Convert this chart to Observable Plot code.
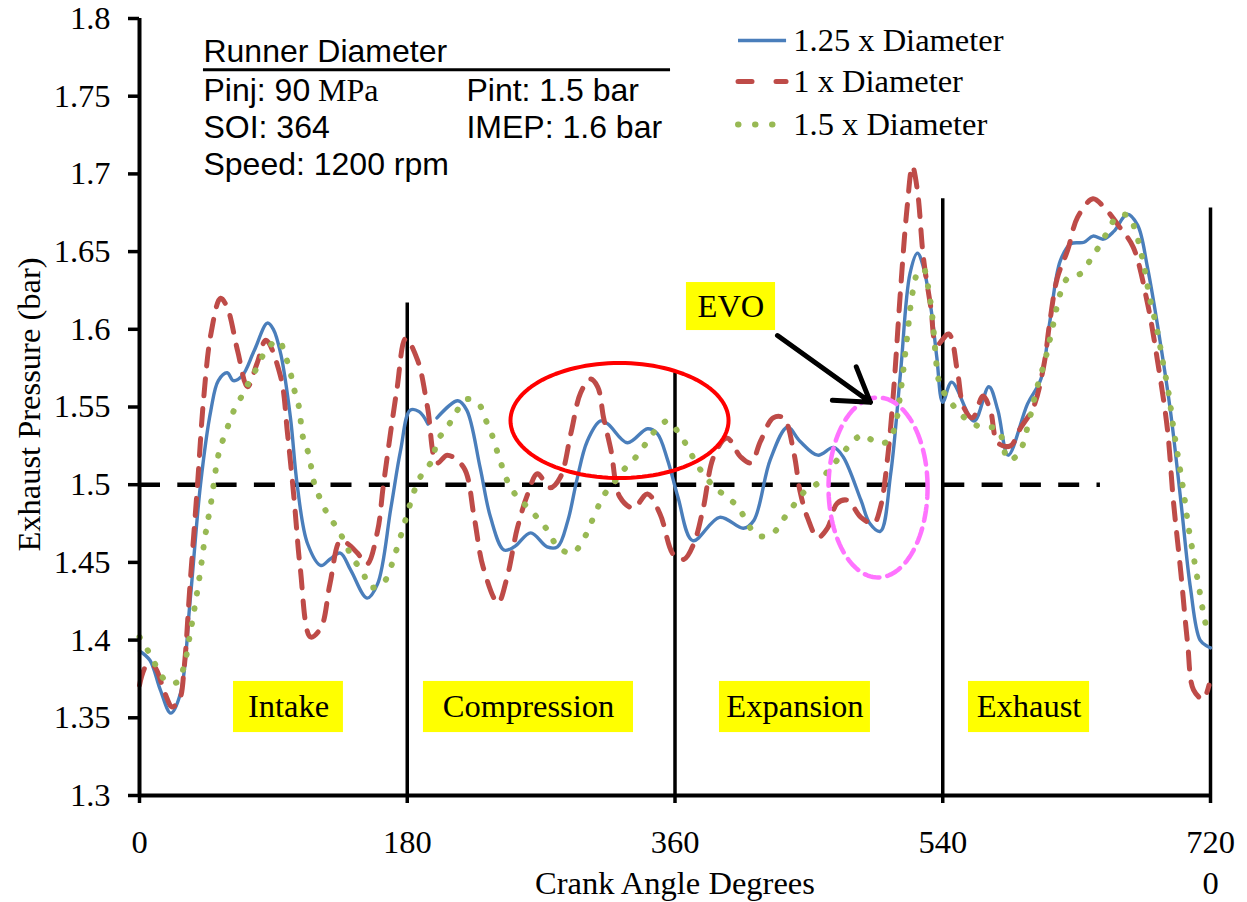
<!DOCTYPE html>
<html>
<head>
<meta charset="utf-8">
<script src="https://cdn.jsdelivr.net/npm/d3@7"></script>
<script src="https://cdn.jsdelivr.net/npm/@observablehq/plot@0.6"></script>
<style>
  html, body { margin: 0; padding: 0; background: #ffffff; }
  #chart { width: 1247px; height: 902px; }
</style>
</head>
<body>
<div id="chart"></div>
<script>
// ---------- data (crank angle [deg], exhaust pressure [bar]) ----------
const dia125 = [
  [0,1.393],[7,1.387],[14,1.368],[21,1.353],[27.6,1.366],[34,1.425],[41,1.50],[48,1.548],[53,1.567],[59,1.572],
  [63,1.567],[69,1.570],[77,1.586],[86,1.604],[90,1.60],[95,1.584],[101.5,1.543],[106,1.50],[113,1.462],[122,1.448],
  [128,1.452],[135,1.456],[142,1.445],[153,1.427],[160,1.436],[169,1.485],[175.5,1.522],[182,1.548],[188,1.547],[194,1.539],
  [197,null],
  [200,1.543],[214,1.554],[220,1.548],[229,1.511],[236,1.479],[245,1.458],[252,1.46],[263,1.469],[274,1.46],[281,1.46],
  [288,1.477],[294,1.503],[301,1.528],[310,1.541],[315,1.539],[328,1.527],[341.5,1.536],[348,1.533],[355,1.516],[362,1.492],
  [372,1.464],[390,1.479],[406,1.472],[413,1.477],[424,1.516],[435.6,1.537],[444,1.528],[456,1.519],[466.6,1.524],[473,1.518],
  [485,1.49],[491,1.475],[498,1.47],[505,1.507],[511.6,1.572],[518,1.636],[523,1.649],[527,1.64],[532,1.614],[536,1.582],
  [540,1.553],[546,1.566],[561,1.541],[571,1.563],[577,1.548],[584,1.519],[597,1.552],[606,1.568],[612,1.605],[619,1.644],
  [626,1.655],[635,1.656],[641,1.66],[648,1.658],[655,1.663],[664,1.674],[671,1.667],[677.6,1.64],[686,1.593],[693,1.548],
  [700,1.49],[706.6,1.433],[713,1.40],[718,1.396],[720,1.395]
];
const dia100 = [
  [0,1.371],[5,1.384],[10,1.383],[17,1.366],[22,1.357],[27,1.362],[30,1.382],[34,1.436],[39,1.50],[43,1.554],
  [48,1.597],[54.5,1.62],[59,1.614],[66,1.586],[72.6,1.563],[79,1.578],[85,1.593],[95,1.569],[99.5,1.533],[104,1.49],
  [108,1.447],[115,1.402],[122,1.408],[128,1.436],[135,1.464],[140,1.462],[146.5,1.456],[153,1.449],[160,1.47],[164,1.50],
  [173,1.561],[179,1.594],[187,1.58],[193.6,1.55],[200,1.514],[207,1.519],[218,1.511],[225,1.479],[231,1.447],[241,1.424],
  [247,1.44],[254,1.472],[261,1.494],[267.5,1.507],[276,1.498],[283,1.505],[290,1.533],[296.5,1.559],[303,1.568],[308,1.563],
  [312,1.543],[317,1.522],[323,1.492],[332,1.485],[341.5,1.494],[350,1.481],[359,1.455],[366,1.452],[372.6,1.462],[379,1.485],
  [386,1.518],[395,1.53],[404,1.518],[411,1.514],[417.5,1.528],[426,1.543],[433,1.543],[440,1.52],[444,1.496],[449,1.479],
  [456,1.466],[462.5,1.472],[469,1.488],[476,1.49],[485,1.479],[493.5,1.475],[498,1.485],[503,1.518],[507,1.561],[511.6,1.625],
  [516,1.678],[519.6,1.705],[523,1.689],[527,1.646],[532,1.614],[536,1.59],[544,1.597],[550,1.572],[554,1.55],[560,1.543],
  [567,1.557],[572,1.548],[577,1.527],[585.5,1.525],[592,1.536],[601,1.55],[608,1.577],[612,1.605],[617,1.633],[624,1.651],
  [630.6,1.672],[641,1.684],[648,1.679],[659.5,1.665],[668,1.653],[677.6,1.617],[684,1.582],[691,1.536],[695,1.49],[700,1.444],
  [704.6,1.398],[708.6,1.368],[715,1.362],[719,1.371]
];
const dia150 = [
  [0,1.402],[7,1.391],[12,1.382],[18.5,1.373],[25.5,1.373],[29.6,1.382],[34,1.404],[37.6,1.424],[41,1.445],[44,1.466],
  [48,1.488],[53,1.519],[56.5,1.53],[60,1.539],[64.5,1.55],[70,1.559],[74.6,1.568],[80,1.577],[84.7,1.586],[93.4,1.593],
  [98,1.583],[101.5,1.572],[103.5,1.563],[107,1.551],[110,1.53],[113.6,1.52],[118,1.499],[122,1.49],[127,1.48],[133,1.472],
  [138.5,1.462],[143,1.453],[150,1.444],[155,1.434],[164,1.437],[172,1.456],[179,1.478],[185.5,1.498],[190,1.507],[197,1.516],
  [200,1.528],[207,1.537],[212.4,1.546],[220,1.555],[228,1.552],[232.6,1.542],[237,1.532],[240.6,1.521],[244,1.511],[248,1.501],
  [254,1.492],[261.5,1.485],[269,1.477],[275.6,1.469],[281,1.46],[291,1.456],[298,1.464],[307,1.483],[312,1.493],[318.7,1.501],
  [325,1.509],[333,1.517],[340,1.526],[346,1.534],[355,1.541],[362,1.534],[368,1.525],[373,1.516],[379,1.507],[387,1.498],
  [395,1.492],[403,1.485],[408.7,1.475],[416,1.467],[426,1.469],[433,1.478],[440,1.487],[446.5,1.495],[456,1.501],[463,1.509],
  [470,1.517],[477,1.525],[486,1.532],[495.5,1.527],[503.5,1.528],[508,1.538],[511.6,1.559],[515.6,1.591],[519.6,1.623],[523,1.636],
  [527,1.639],[530,1.628],[533,1.608],[535,1.586],[538,1.565],[547,1.551],[558.6,1.54],[567,1.537],[577,1.536],[584,1.516],
  [591,1.52],[598,1.541],[603,1.561],[609,1.581],[614,1.602],[619,1.623],[624,1.633],[633,1.636],[640,1.646],[645.5,1.654],
  [651.5,1.664],[657.5,1.673],[665,1.673],[669.6,1.663],[675,1.642],[679,1.621],[684,1.6],[688,1.579],[692,1.558],[695,1.537],
  [698.5,1.516],[702,1.495],[705,1.474],[708.6,1.454],[712.6,1.432],[716.6,1.411],[719,1.405]
];

const seriesNames = ["1.25 x Diameter", "1 x Diameter", "1.5 x Diameter"];
const xTicks = [0, 180, 360, 540, 720];
const xTickLabels = ["0", "180", "360", "540", "720"];
const yTicks = [1.3, 1.35, 1.4, 1.45, 1.5, 1.55, 1.6, 1.65, 1.7, 1.75, 1.8];
const yTickLabels = ["1.3", "1.35", "1.4", "1.45", "1.5", "1.55", "1.6", "1.65", "1.7", "1.75", "1.8"];
const phaseBounds = [180, 360, 540, 720];
const phaseBoundTops = [1.617, 1.572, 1.684, 1.678];
const phaseNames = ["Intake", "Compression", "Expansion", "Exhaust"];
const phaseBoxStart = [63.2, 190.9, 389.9, 557.3];
const phaseBoxEnd = [137.1, 332.1, 491.4, 638.7];
const referencePressure = 1.5;
const referenceEnd = 646;
const infoTitle = "Runner Diameter";
const infoLeft = ["Pinj: 90", "SOI: 364", "Speed: 1200 rpm"];
const infoRight = ["Pint: 1.5 bar", "IMEP: 1.6 bar"];

// ---------- helpers ----------
const toRows = (arr) => arr.map(([a, p]) => ({a, p}));
const ellipse = (cx, cy, rx, ry) =>
  d3.range(0, 361, 3).map(t => ({a: cx + rx * Math.cos(t * Math.PI / 180), p: cy + ry * Math.sin(t * Math.PI / 180)}));

const BLUE = "#4a7ebb", RED = "#be4b48", GREEN = "#98b954";
const SERIF = "'Liberation Serif','Times New Roman',serif";
const SANS = "'Liberation Sans',Arial,sans-serif";
const FS = 32.5;     // serif text size
const FSANS = 32;    // sans text size

const phaseRows = phaseNames.map((n, i) => ({n, x1: phaseBoxStart[i], x2: phaseBoxEnd[i]}));
const boundRows = phaseBounds.map((x, i) => ({x, top: phaseBoundTops[i]}));

// legend layout (positions in chart units)
const legX1 = 402.7, legX2 = 435, legTX = 439.5;
const legY = [1.7858, 1.7595, 1.7318];
// info box baselines (chart units)
const infoTitleY = 1.7717, infoUnderY = 1.7670;
const infoRowY = [1.7466, 1.7234, 1.6996];

const chart = Plot.plot({
  width: 1247,
  height: 902,
  marginLeft: 139,
  marginRight: 37,
  marginTop: 18,
  marginBottom: 107,
  x: {domain: [0, 720], label: null},
  y: {domain: [1.3, 1.8], label: null},
  style: {fontFamily: SERIF, background: "#ffffff", color: "#000000", overflow: "visible"},
  marks: [
    // phase labels
    Plot.rect(phaseRows, {x1: "x1", x2: "x2", y1: 1.3405, y2: 1.3734, fill: "#ffff00"}),
    Plot.text(phaseRows, {x: d => (d.x1 + d.x2) / 2, y: 1.3570, text: "n", fontSize: FS, fontFamily: SERIF, fill: "#000"}),
    // reference line at 1.5 bar
    Plot.ruleY([referencePressure], {x1: 0, x2: referenceEnd, stroke: "#000", strokeWidth: 4.5, strokeDasharray: "21,17.3"}),
    // phase boundaries
    Plot.ruleX(boundRows, {x: "x", y1: 1.3, y2: "top", stroke: "#000", strokeWidth: 3.5}),
    // series
    Plot.line(toRows(dia125), {x: "a", y: "p", stroke: BLUE, strokeWidth: 3.4, curve: "catmull-rom"}),
    Plot.line(toRows(dia100), {x: "a", y: "p", stroke: RED, strokeWidth: 5, strokeDasharray: "17,13", strokeLinecap: "round", curve: "catmull-rom"}),
    Plot.line(toRows(dia150), {x: "a", y: "p", stroke: GREEN, strokeWidth: 6, strokeDasharray: "0.5,15", strokeLinecap: "round", curve: "catmull-rom"}),
    // annotations
    Plot.line(ellipse(322.7, 1.5413, 73.3, 0.0370), {x: "a", y: "p", stroke: "#ff0000", strokeWidth: 4}),
    Plot.line(ellipse(496.5, 1.4982, 33.3, 0.0579), {x: "a", y: "p", stroke: "#ff73ff", strokeWidth: 4.5, strokeDasharray: "15,8"}),
    Plot.rect([0], {x1: 367.7, x2: 427.6, y1: 1.5992, y2: 1.6301, fill: "#ffff00"}),
    Plot.text(["EVO"], {x: 397.6, y: 1.6147, text: d => d, fontSize: FS, fontFamily: SERIF, fill: "#000"}),
    Plot.arrow([0], {x1: 428.9, y1: 1.596, x2: 491.4, y2: 1.553, stroke: "#000", strokeWidth: 5, headLength: 20, headAngle: 65}),
    // info box
    Plot.text([infoTitle], {x: 43, y: infoTitleY, text: d => d, textAnchor: "start", lineAnchor: "bottom", fontFamily: SANS, fontSize: FSANS, fill: "#000"}),
    Plot.ruleY([infoUnderY], {x1: 43, x2: 357, stroke: "#000", strokeWidth: 3}),
    Plot.text(infoLeft, {x: 43, y: (d, i) => infoRowY[i], text: d => d, textAnchor: "start", lineAnchor: "bottom", fontFamily: SANS, fontSize: FSANS, fill: "#000"}),
    Plot.text(["MPa"], {x: 120, y: infoRowY[0], text: d => d, textAnchor: "start", lineAnchor: "bottom", fontFamily: SERIF, fontSize: FSANS, fill: "#000"}),
    Plot.text(infoRight, {x: 219.8, y: (d, i) => infoRowY[i], text: d => d, textAnchor: "start", lineAnchor: "bottom", fontFamily: SANS, fontSize: FSANS, fill: "#000"}),
    // legend
    Plot.ruleY([legY[0]], {x1: legX1, x2: legX2, stroke: BLUE, strokeWidth: 3.4}),
    Plot.ruleY([legY[1]], {x1: legX1, x2: legX2, stroke: RED, strokeWidth: 5, strokeDasharray: "14,24", strokeLinecap: "round"}),
    Plot.ruleY([legY[2]], {x1: legX1, x2: legX2, stroke: GREEN, strokeWidth: 6, strokeDasharray: "0.5,16.5", strokeLinecap: "round"}),
    Plot.text(seriesNames, {x: legTX, y: (d, i) => legY[i], text: d => d, textAnchor: "start", fontSize: FS, fontFamily: SERIF, fill: "#000"}),
    // axes
    Plot.axisY({ticks: yTicks, tickFormat: d => yTickLabels[yTicks.findIndex(t => Math.abs(t - d) < 1e-9)], tickSize: 11, tickPadding: 18, fontSize: FS, strokeWidth: 3.5, label: null}),
    Plot.axisX({ticks: xTicks, tickFormat: d => xTickLabels[xTicks.indexOf(d)], tickSize: 8, tickPadding: 26, fontSize: FS, strokeWidth: 3.5, label: null}),
    Plot.ruleX([0], {y1: 1.3, y2: 1.8, stroke: "#000", strokeWidth: 4}),
    Plot.ruleY([1.3], {x1: 0, x2: 720, stroke: "#000", strokeWidth: 4}),
    // axis titles
    Plot.text(["Crank Angle Degrees"], {x: 360, frameAnchor: "bottom", dy: 98, lineAnchor: "bottom", text: d => d, fontSize: FS, fontFamily: SERIF, fill: "#000"}),
    Plot.text(["0"], {x: 720, frameAnchor: "bottom", dy: 98, lineAnchor: "bottom", text: d => d, fontSize: FS, fontFamily: SERIF, fill: "#000"}),
    Plot.text(["Exhaust Pressure (bar)"], {y: 1.5516, frameAnchor: "left", dx: -110, rotate: -90, textAnchor: "middle", text: d => d, fontSize: FS, fontFamily: SERIF, fill: "#000"})
  ]
});
document.getElementById("chart").appendChild(chart);
</script>
</body>
</html>
